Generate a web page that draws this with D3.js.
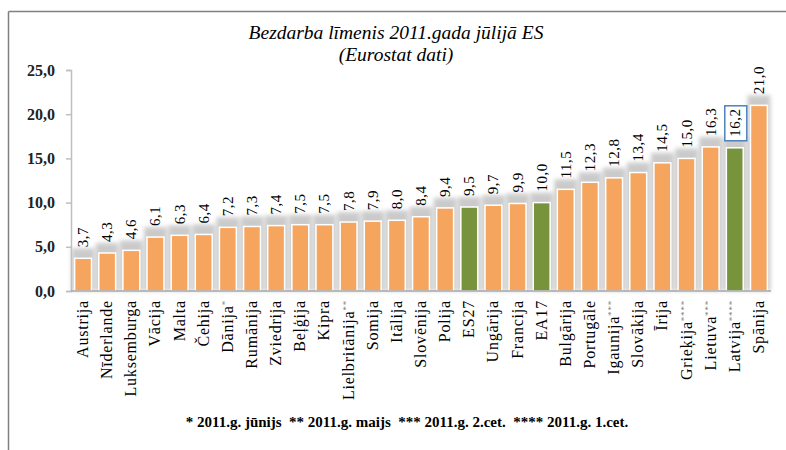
<!DOCTYPE html>
<html>
<head>
<meta charset="utf-8">
<script src="https://cdn.jsdelivr.net/npm/d3@7"></script>
<style>
    body { margin: 0; background: #fff; }
    text { font-family: "Liberation Serif", "Times New Roman", serif; white-space: pre; }
</style>
</head>
<body>
<div id="chart"></div>
<script>
// data
let countries = ["Austrija", "Nīderlande", "Luksemburga", "Vācija", "Malta", "Čehija", "Dānija", "Rumānija",
    "Zviedrija", "Beļģija", "Kipra", "Lielbritānija", "Somija", "Itālija", "Slovēnija", "Polija", "ES27",
    "Ungārija", "Francija", "EA17", "Bulgārija", "Portugāle", "Igaunija", "Slovākija", "Īrija", "Grieķija",
    "Lietuva", "Latvija", "Spānija"];
let marks = ["", "", "", "", "", "", "*", "", "", "", "", "**", "", "", "", "", "", "", "", "", "", "",
    "***", "", "", "****", "***", "****", ""];
let rates = [3.7, 4.3, 4.6, 6.1, 6.3, 6.4, 7.2, 7.3, 7.4, 7.5, 7.5, 7.8, 7.9, 8.0, 8.4, 9.4, 9.5, 9.7, 9.9,
    10.0, 11.5, 12.3, 12.8, 13.4, 14.5, 15.0, 16.3, 16.2, 21.0];
let greenBars = ["ES27", "EA17", "Latvija"];
let boxedLabel = ["Latvija"];
let yTicks = [0, 5, 10, 15, 20, 25];
let titleLines = ["Bezdarba līmenis 2011.gada jūlijā ES", "(Eurostat dati)"];
let footnote = "* 2011.g. jūnijs  ** 2011.g. maijs  *** 2011.g. 2.cet.  **** 2011.g. 1.cet.";

const width = 786, height = 450;
const margin = { top: 70, right: 15, bottom: 159, left: 71 };
const serif = "'Liberation Serif', 'Times New Roman', serif";

let data = countries.map((c, i) => ({ name: c, mark: marks[i], value: rates[i] }));

let svg = d3.select("#chart").append("svg")
    .attr("width", width)
    .attr("height", height)
    .attr("font-family", serif);

// soft shadow round the bars
let defs = svg.append("defs");
defs.append("filter")
    .attr("id", "soft")
    .attr("x", "-50%").attr("y", "-50%")
    .attr("width", "200%").attr("height", "200%")
    .append("feGaussianBlur")
    .attr("stdDeviation", 2.2);

// frame: top line and left line only
svg.append("line")
    .attr("x1", 8.5).attr("x2", width).attr("y1", 11.5).attr("y2", 11.5)
    .attr("stroke", "#808080").attr("stroke-width", 1.5);
svg.append("line")
    .attr("x1", 8.5).attr("x2", 8.5).attr("y1", 11.5).attr("y2", height)
    .attr("stroke", "#808080").attr("stroke-width", 1.5);

// title
svg.append("g").selectAll("text")
    .data(titleLines)
    .enter().append("text")
    .attr("x", 396)
    .attr("y", (d, i) => 39 + i * 22)
    .attr("text-anchor", "middle")
    .attr("font-style", "italic")
    .attr("font-size", 19.5)
    .text(d => d);

let x = d3.scaleBand()
    .domain(countries)
    .range([margin.left, width - margin.right])
    .paddingInner(0.3)
    .paddingOuter(0.15);

let y = d3.scaleLinear()
    .domain([0, 25])
    .range([height - margin.bottom, margin.top]);

// shadows first, then bars on top
svg.append("g").selectAll("rect")
    .data(data)
    .enter().append("rect")
    .attr("x", d => x(d.name) - 3)
    .attr("y", d => y(d.value) - 10)
    .attr("width", x.bandwidth() + 6)
    .attr("height", d => y(0) - y(d.value) + 10)
    .attr("fill", "#8c8c8c")
    .attr("opacity", 0.45)
    .attr("filter", "url(#soft)");

svg.append("g").selectAll("rect")
    .data(data)
    .enter().append("rect")
    .attr("x", d => x(d.name))
    .attr("y", d => y(d.value))
    .attr("width", x.bandwidth())
    .attr("height", d => y(0) - y(d.value))
    .attr("fill", d => greenBars.includes(d.name) ? "#77933c" : "#f6a55e")
    .attr("stroke", "#fff")
    .attr("stroke-width", 1.5);

// y axis
let yAxis = svg.append("g")
    .attr("transform", "translate(" + margin.left + ",0)")
    .call(d3.axisLeft(y).tickValues(yTicks).tickSize(5).tickPadding(11)
        .tickFormat(d => d3.format(".1f")(d).replace(".", ",")));
yAxis.attr("font-family", serif);
yAxis.select(".domain").attr("stroke", "#bfbfbf").attr("stroke-width", 1.5);
yAxis.selectAll(".tick line").attr("stroke", "#bfbfbf").attr("stroke-width", 1.5);
yAxis.selectAll(".tick text")
    .attr("font-size", 16)
    .attr("font-weight", "bold")
    .attr("fill", "#222");

// x axis line
svg.append("line")
    .attr("x1", margin.left).attr("x2", width - margin.right)
    .attr("y1", y(0)).attr("y2", y(0))
    .attr("stroke", "#a6a6a6").attr("stroke-width", 1.5);

// category labels, rotated
let xLabels = svg.append("g").selectAll("text")
    .data(data)
    .enter().append("text")
    .attr("transform", d => "translate(" + (x(d.name) + x.bandwidth() / 2 + 5) + "," + (y(0) + 9) + ") rotate(-90)")
    .attr("text-anchor", "end")
    .attr("font-size", 16)
    .attr("letter-spacing", 0.8);
xLabels.append("tspan").text(d => d.name);
xLabels.append("tspan")
    .attr("font-size", 9)
    .attr("fill", "#777")
    .attr("dy", -5)
    .text(d => d.mark);

// value labels, rotated
let valueLabels = svg.append("g").selectAll("g")
    .data(data)
    .enter().append("g")
    .attr("transform", d => "translate(" + (x(d.name) + x.bandwidth() / 2 + 5) + "," + (y(d.value) - 11) + ") rotate(-90)");

valueLabels.filter(d => boxedLabel.includes(d.name))
    .append("rect")
    .attr("x", -4)
    .attr("y", -15)
    .attr("width", 35)
    .attr("height", 22)
    .attr("fill", "#fff")
    .attr("stroke", "#4f81bd")
    .attr("stroke-width", 1.5);

valueLabels.append("text")
    .attr("font-size", 15)
    .attr("letter-spacing", 0.5)
    .text(d => d3.format(".1f")(d.value).replace(".", ","));

// footnote
svg.append("text")
    .attr("x", 407)
    .attr("y", 427)
    .attr("text-anchor", "middle")
    .attr("font-size", 15)
    .attr("font-weight", "bold")
    .text(footnote);
</script>
</body>
</html>
